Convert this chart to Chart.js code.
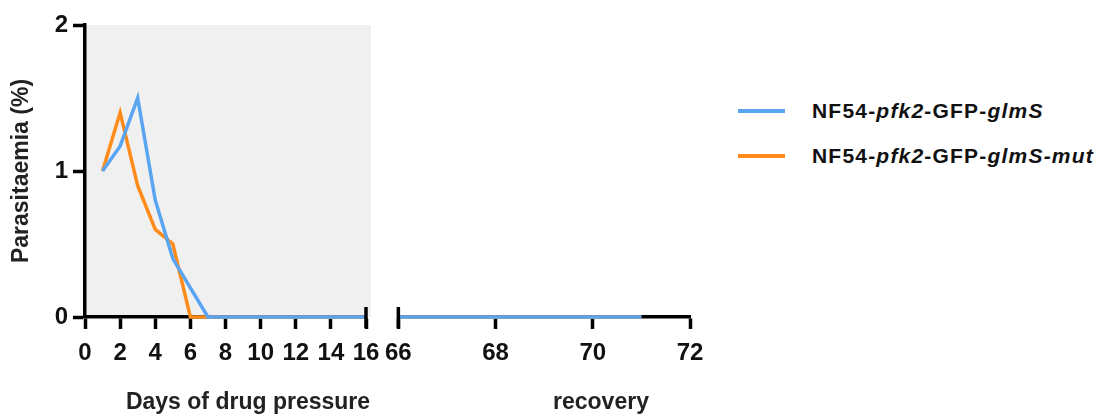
<!DOCTYPE html>
<html>
<head>
<meta charset="utf-8">
<script src="https://cdn.jsdelivr.net/npm/chart.js@4"></script>
<style>
  html, body { margin: 0; padding: 0; background: #fff; }
  #wrap { position: relative; width: 1110px; height: 414px; overflow: hidden; font-family: 'Liberation Sans', Arial, sans-serif; }
  #left { position: absolute; left: 0; top: 0; }
  #right { position: absolute; left: 375px; top: 0; }
  .xtitle { position: absolute; font-size: 23px; font-weight: bold; color: #222; line-height: 24px; white-space: nowrap; transform: translateX(-50%); }
  .leg { position: absolute; left: 738px; height: 30px; display: flex; align-items: center; white-space: nowrap; }
  .leg span.sw { display: inline-block; width: 47px; height: 4px; margin-right: 27px; }
  .leg span.tx { font-size: 21px; font-weight: bold; letter-spacing: 1.2px; color: #111; }
</style>
</head>
<body>
<div id="wrap">
  <canvas id="left" width="390" height="414"></canvas>
  <canvas id="right" width="340" height="414"></canvas>
  <div class="xtitle" style="left:248px; top:389px;">Days of drug pressure</div>
  <div class="xtitle" style="left:601px; top:389px;">recovery</div>
  <div class="leg" style="top:96px;"><span class="sw" style="background:#5aa5f2"></span><span class="tx">NF54-<i>pfk2</i>-GFP-<i>glmS</i></span></div>
  <div class="leg" style="top:141px;"><span class="sw" style="background:#ff8c1a"></span><span class="tx">NF54-<i>pfk2</i>-GFP-<i>glmS-mut</i></span></div>
</div>
<script>
// Данные: дни под давлением препарата
var pressureDays = [1, 2, 3, 4, 5, 6, 7, 8, 9, 10, 11, 12, 13, 14, 15, 16];
var glmsPressure = [1.0, 1.17, 1.5, 0.8, 0.4, 0.2, 0, 0, 0, 0, 0, 0, 0, 0, 0, 0];
var mutPressure = [1.0, 1.4, 0.9, 0.6, 0.5, 0, 0, 0, 0, 0, 0, 0, 0, 0, 0, 0];

// Данные: восстановление
var recoveryDays = [66, 67, 68, 69, 70, 71];
var glmsRecovery = [0, 0, 0, 0, 0, 0];
var mutRecovery = [0, 0, 0, 0, 0, 0];

var pressureTicks = [0, 2, 4, 6, 8, 10, 12, 14, 16];
var recoveryTicks = [66, 68, 70, 72];
var yTicks = [0, 1, 2];

var blue = '#5aa5f2';
var orange = '#ff8c1a';

function toPoints(xs, ys) {
    return xs.map(function(x, i) { return { x: x, y: ys[i] }; });
}

Chart.defaults.font.family = "'Liberation Sans', Arial, sans-serif";
Chart.defaults.color = '#111';

// серый фон области графика
var shadePlugin = {
    id: 'shade',
    beforeDraw: function(chart, args, opts) {
        if (!opts.color) return;
        var a = chart.chartArea;
        var ctx = chart.ctx;
        ctx.save();
        ctx.fillStyle = opts.color;
        ctx.fillRect(a.left, a.top, a.right - a.left + 5, a.bottom - a.top);
        ctx.restore();
    }
};

// засечки разрыва оси
var breakPlugin = {
    id: 'axisBreak',
    afterDraw: function(chart, args, opts) {
        var xs = chart.scales.x;
        var ctx = chart.ctx;
        var b = chart.chartArea.bottom;
        ctx.save();
        ctx.strokeStyle = '#000';
        ctx.lineWidth = 3.5;
        (opts.at || []).forEach(function(v) {
            var px = xs.getPixelForValue(v);
            ctx.beginPath();
            ctx.moveTo(px, b - 10);
            ctx.lineTo(px, b + 11);
            ctx.stroke();
        });
        ctx.restore();
    }
};

function lineSet(label, pts, color) {
    return {
        label: label,
        data: pts,
        borderColor: color,
        backgroundColor: color,
        borderWidth: 3.5,
        pointRadius: 0,
        tension: 0,
        clip: false
    };
}

function xScale(min, max, ticks) {
    return {
        type: 'linear',
        min: min,
        max: max,
        afterBuildTicks: function(s) { s.ticks = ticks.map(function(v) { return { value: v }; }); },
        afterFit: function(s) { s.height = 97; },
        grid: { drawOnChartArea: false, tickLength: 12, tickWidth: 3.5, tickColor: '#000' },
        border: { color: '#000', width: 3.5 },
        ticks: { autoSkip: false, maxRotation: 0, padding: 10, color: '#111', font: { size: 24, weight: 'bold' } }
    };
}

function yScale(show) {
    var s = {
        display: show,
        min: 0,
        max: 2,
        afterBuildTicks: function(s) { s.ticks = yTicks.map(function(v) { return { value: v }; }); },
        grid: { drawOnChartArea: false, tickLength: 12, tickWidth: 3.5, tickColor: '#000' },
        border: { color: '#000', width: 3.5 },
        ticks: { padding: 5, color: '#111', font: { size: 24, weight: 'bold' } },
        title: { display: true, text: 'Parasitaemia (%)', color: '#222', padding: { top: 8, bottom: 0 }, font: { size: 23, weight: 'bold' } }
    };
    if (show) {
        s.afterFit = function(sc) { sc.width = 85; };
    }
    return s;
}

new Chart(document.getElementById('left'), {
    type: 'line',
    data: {
        datasets: [
            lineSet('NF54-pfk2-GFP-glmS', toPoints(pressureDays, glmsPressure), blue),
            lineSet('NF54-pfk2-GFP-glmS-mut', toPoints(pressureDays, mutPressure), orange)
        ]
    },
    options: {
        responsive: false,
        animation: false,
        layout: { padding: { top: 25, right: 24, left: 0, bottom: 0 } },
        scales: { x: xScale(0, 16, pressureTicks), y: yScale(true) },
        plugins: {
            legend: { display: false },
            tooltip: { enabled: false },
            shade: { color: '#f0f0f0' },
            axisBreak: { at: [16] }
        }
    },
    plugins: [shadePlugin, breakPlugin]
});

new Chart(document.getElementById('right'), {
    type: 'line',
    data: {
        datasets: [
            lineSet('NF54-pfk2-GFP-glmS', toPoints(recoveryDays, glmsRecovery), blue),
            lineSet('NF54-pfk2-GFP-glmS-mut', toPoints(recoveryDays, mutRecovery), orange)
        ]
    },
    options: {
        responsive: false,
        animation: false,
        layout: { padding: { top: 25, right: 25, left: 22, bottom: 0 } },
        scales: { x: xScale(66, 72, recoveryTicks), y: yScale(false) },
        plugins: {
            legend: { display: false },
            tooltip: { enabled: false },
            axisBreak: { at: [66] }
        }
    },
    plugins: [shadePlugin, breakPlugin]
});
</script>
</body>
</html>
